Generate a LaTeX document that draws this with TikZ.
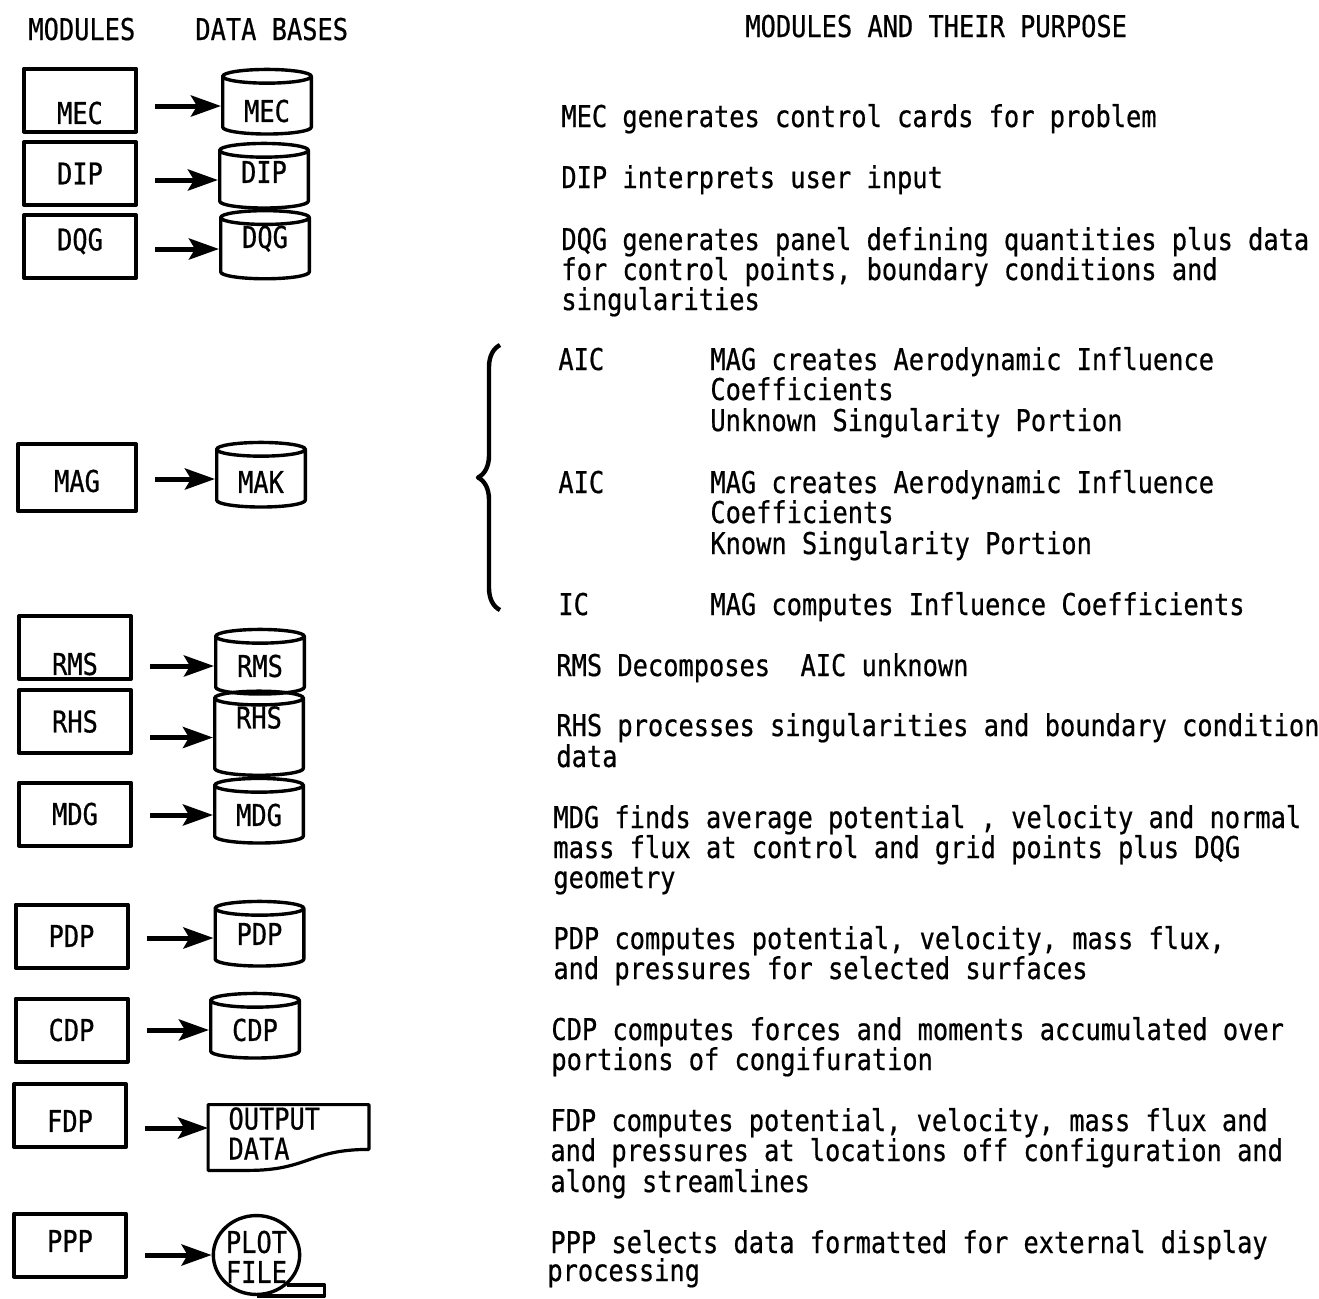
\documentclass[tikz,border=0pt]{standalone}
\usepackage{fontspec}
\usepackage{tikz}
\usetikzlibrary{shapes.geometric, arrows.meta, decorations.pathreplacing}
\newfontfamily\typer{DejaVu Sans Mono}[FakeStretch=0.845, FakeBold=0.6]

\begin{document}
\begin{tikzpicture}[x=0.5pt, y=-0.5pt, line join=round,
  every node/.style={font=\typer\fontsize{15pt}{15pt}\selectfont},
  module/.style={draw, line width=2pt, minimum width=56pt, minimum height=31.5pt,
                 inner sep=0pt, text height=10.9pt, text depth=0pt},
  dbase/.style={draw, cylinder, shape border rotate=90, aspect=0.3, line width=1.7pt,
                minimum width=44.3pt, minimum height=32.3pt, inner sep=0pt,
                text height=10.9pt, text depth=0pt},
  feed/.style={line width=2.5pt, -{Stealth[length=15pt, width=10.5pt, inset=3pt]},
               shorten <=8.5pt},
  purpose/.style={anchor=base west, inner sep=0pt},
]

  \useasboundingbox (0,0) rectangle (1319,1298);

  % headings
  \node[purpose] (hmod) at (28,40) {MODULES};
  \node[purpose] (hdb) at (195,40) {DATA BASES};
  \node[purpose] (hpurp) at (745,37) {MODULES AND THEIR PURPOSE};

  % modules
  \node[module, text height=23.9pt] (mec) at (80,100) {MEC};
  \node[module] (dip) at (80,173.5) {DIP};
  \node[module, text depth=7pt] (dqg) at (80,246.5) {DQG};
  \node[module, minimum width=59pt, minimum height=33.5pt, text height=14.4pt] (mag) at (77,477.5) {MAG};
  \node[module, text height=27.4pt] (rms) at (75,647.5) {RMS};
  \node[module] (rhs) at (75,721.5) {RHS};
  \node[module] (mdg) at (75,814) {MDG};
  \node[module] (pdp) at (71.5,936) {PDP};
  \node[module] (cdp) at (71.5,1030) {CDP};
  \node[module, text height=16.4pt] (fdp) at (70,1115.5) {FDP};
  \node[module, text depth=4pt] (ppp) at (70,1245) {PPP};

  % data bases
  \node[dbase, text height=15.9pt] (mecdb) at (267,106) {MEC};
  \node[dbase, text depth=8pt] (dipdb) at (264,180) {DIP};
  \node[dbase, text depth=12pt] (dqgdb) at (265,249) {DQG};
  \node[dbase, text height=13.9pt] (makdb) at (261,479) {MAK};
  \node[dbase] (rmsdb) at (260,666) {RMS};
  \node[dbase, text depth=20pt] (rhsdb) at (259,737.5) {RHS};
  \node[dbase] (mdgdb) at (259,815) {MDG};
  \node[dbase, text depth=4pt] (pdpdb) at (259.5,938) {PDP};
  \node[dbase] (cdpdb) at (255,1030) {CDP};

  \node[minimum width=80pt, minimum height=32.5pt, inner xsep=10pt, inner ysep=0pt,
        text width=60pt, align=left, text height=4pt, text depth=12pt]
        (outdat) at (288.5,1137.5) {OUTPUT\\DATA};
  \draw[line width=1.6pt] (outdat.south west) -- (outdat.north west) -- (outdat.north east)
    -- ([yshift=10.5pt]outdat.south east) .. controls +(-60,0) and +(60,0)
    .. ([xshift=20pt]outdat.south west) -- cycle;

  \node[draw, ellipse, line width=1.7pt, minimum width=42pt, minimum height=36.5pt,
        inner sep=0pt, align=center, text height=27.9pt, text depth=0pt]
        (plotf) at (256.5,1255) {PLOT\\FILE};
  \draw[line width=1.7pt] (plotf.south) -- ++(68,0) -- ++(0,-11) -- ++(-38,0);

  % arrows
  \foreach \m in {mec, dip, dqg, rms, rhs, mdg, pdp, cdp}
    \draw[feed] (\m.east |- \m db.west) -- (\m db.west);
  \draw[feed] (mag.east |- makdb.west) -- (makdb.west);
  \coordinate (outin) at ([yshift=4.75pt]outdat.west);
  \draw[feed] (fdp.east |- outin) -- (outin);
  \draw[feed] (ppp.east |- plotf.west) -- (plotf.west);

  % brace for MAG
  \draw[line width=2.2pt, decorate, decoration={brace, amplitude=11pt}] (500,610) -- (500,345);

  % purpose texts
  \foreach \x/\y/\t [count=\i] in {
      561/127/{MEC generates control cards for problem},
      561/188/{DIP interprets user input},
      561/250/{DQG generates panel defining quantities plus data},
      561/280/{for control points, boundary conditions and},
      561/310/{singularities},
      558/370/{AIC}, 710/370/{MAG creates Aerodynamic Influence},
      710/400/{Coefficients},
      710/431/{Unknown Singularity Portion},
      558/493/{AIC}, 710/493/{MAG creates Aerodynamic Influence},
      710/523/{Coefficients},
      710/554/{Known Singularity Portion},
      558/615/{IC}, 710/615/{MAG computes Influence Coefficients},
      556/676/{RMS Decomposes~~AIC unknown},
      556/736/{RHS processes singularities and boundary condition},
      556/767/{data},
      553/828/{MDG finds average potential , velocity and normal},
      553/858/{mass flux at control and grid points plus DQG},
      553/888/{geometry},
      553/949/{PDP computes potential, velocity, mass flux,},
      553/979/{and pressures for selected surfaces},
      551/1040/{CDP computes forces and moments accumulated over},
      551/1070/{portions of congifuration},
      550/1131/{FDP computes potential, velocity, mass flux and},
      550/1161/{and pressures at locations off configuration and},
      550/1192/{along streamlines},
      550/1253/{PPP selects data formatted for external display},
      547/1281/{processing}}
    \node[purpose] (p\i) at (\x,\y) {\t};

\end{tikzpicture}
\end{document}
